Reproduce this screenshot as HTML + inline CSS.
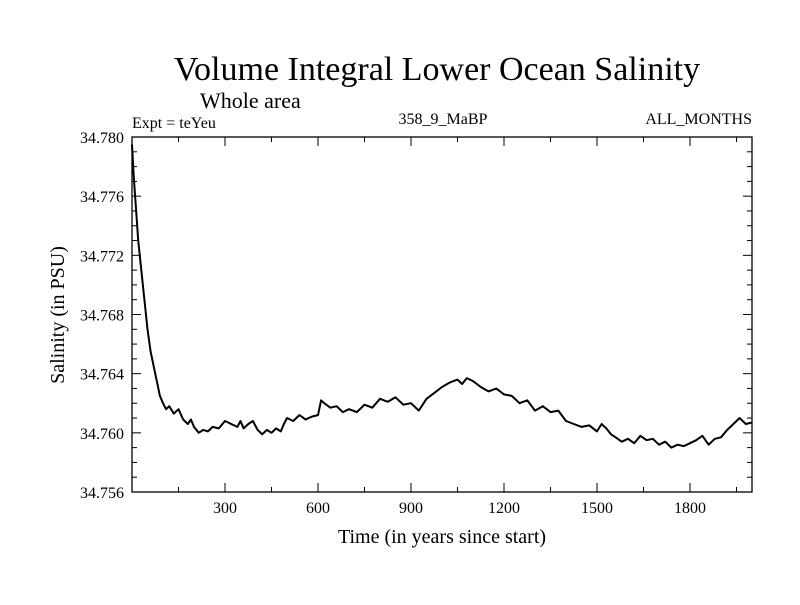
<!DOCTYPE html>
<html><head><meta charset="utf-8"><style>
body{margin:0;background:#fff}
svg text{font-family:"Liberation Serif",serif;fill:#000}
</style></head><body>
<svg width="800" height="600" id="c">
<text x="437" y="80" font-size="34" text-anchor="middle">Volume Integral Lower Ocean Salinity</text>
<text x="200" y="108" font-size="22">Whole area</text>
<text x="132" y="128" font-size="16">Expt = teYeu</text>
<text x="443" y="124" font-size="16" text-anchor="middle">358_9_MaBP</text>
<text x="752" y="124" font-size="16" text-anchor="end">ALL_MONTHS</text>
<text x="442" y="543" font-size="20" text-anchor="middle">Time (in years since start)</text>
<text transform="translate(64,315) rotate(-90)" font-size="20" text-anchor="middle">Salinity (in PSU)</text>
<g id="axes"></g>
</svg>
<script>
const years=[0,5,10,15,20,30,40,50,60,70,80,90,100,110,120,135,150,165,180,190,200,215,230,245,260,280,300,320,340,350,360,375,390,405,420,435,450,465,480,490,500,520,540,560,580,600,610,620,640,660,680,700,725,750,775,800,825,850,875,900,925,950,975,1000,1025,1050,1065,1080,1100,1125,1150,1175,1200,1225,1250,1275,1300,1325,1350,1375,1400,1425,1450,1475,1500,1515,1530,1545,1560,1580,1600,1620,1640,1660,1680,1700,1720,1740,1760,1780,1800,1820,1840,1860,1880,1900,1920,1940,1960,1980,2000];
const salinity=[34.7795,34.7775,34.776,34.7745,34.773,34.771,34.769,34.767,34.7655,34.7645,34.7635,34.7625,34.762,34.7616,34.7618,34.7613,34.7616,34.7609,34.7606,34.7609,34.7604,34.7600,34.7602,34.7601,34.7604,34.7603,34.7608,34.7606,34.7604,34.7608,34.7603,34.7606,34.7608,34.7602,34.7599,34.7602,34.7600,34.7603,34.7601,34.7606,34.7610,34.7608,34.7612,34.7609,34.7611,34.7612,34.7622,34.7620,34.7617,34.7618,34.7614,34.7616,34.7614,34.7619,34.7617,34.7623,34.7621,34.7624,34.7619,34.7620,34.7615,34.7623,34.7627,34.7631,34.7634,34.7636,34.7633,34.7637,34.7635,34.7631,34.7628,34.7630,34.7626,34.7625,34.7620,34.7622,34.7615,34.7618,34.7614,34.7615,34.7608,34.7606,34.7604,34.7605,34.7601,34.7606,34.7603,34.7599,34.7597,34.7594,34.7596,34.7593,34.7598,34.7595,34.7596,34.7592,34.7594,34.7590,34.7592,34.7591,34.7593,34.7595,34.7598,34.7592,34.7596,34.7597,34.7602,34.7606,34.7610,34.7606,34.7607,34.7609,34.7610,34.7611,34.7609];
const xTicks=[300,600,900,1200,1500,1800];
const yTicks=[34.756,34.760,34.764,34.768,34.772,34.776,34.780];
const X0=132,X1=752,Y0=492,Y1=137;
const xs=v=>X0+(v-0)/2000*(X1-X0);
const ys=v=>Y0-(v-34.756)/0.024*(Y0-Y1);
const g=document.getElementById('axes');const NS='http://www.w3.org/2000/svg';
function el(t,a){const e=document.createElementNS(NS,t);for(const k in a)e.setAttribute(k,a[k]);g.appendChild(e);return e;}
const frame=el('rect',{x:X0,y:Y1,width:X1-X0,height:Y0-Y1,fill:'none',stroke:'#000','stroke-width':1.3});


for(let v=150;v<2000;v+=150){const L=(v%300===0)?9:5;
 const t1=el('line',{x1:xs(v),x2:xs(v),y1:Y0,y2:Y0-L,stroke:'#000'});
 const t2=el('line',{x1:xs(v),x2:xs(v),y1:Y1,y2:Y1+L,stroke:'#000'});}
for(let i=0;i<=24;i++){const v=34.756+i*0.001;const L=(i%4===0)?9:5;
 const t1=el('line',{x1:X0,x2:X0+L,y1:ys(v),y2:ys(v),stroke:'#000'});
 const t2=el('line',{x1:X1,x2:X1-L,y1:ys(v),y2:ys(v),stroke:'#000'});}
xTicks.forEach(v=>{const t=el('text',{x:xs(v),y:Y0+21,'font-size':16,'text-anchor':'middle'});t.textContent=v;
 });
yTicks.forEach(v=>{const t=el('text',{x:X0-8,y:ys(v)+6,'font-size':16,'text-anchor':'end'});t.textContent=v.toFixed(3);
 });
const p=el('polyline',{points:years.map((y,i)=>xs(y).toFixed(1)+','+ys(salinity[i]).toFixed(1)).join(' '),fill:'none',stroke:'#000','stroke-width':2,'stroke-linejoin':'round'});


</script>
</body></html>
